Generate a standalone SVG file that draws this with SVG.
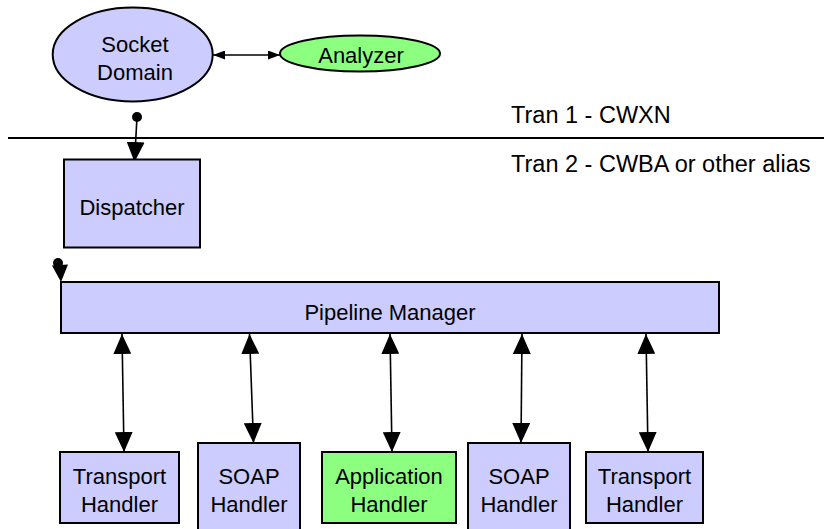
<svg xmlns="http://www.w3.org/2000/svg" width="824" height="529" viewBox="0 0 824 529">
<defs>
<style>
.t{font-family:"Liberation Sans",Arial,sans-serif;font-size:22px;fill:#000;text-anchor:middle}
.lbl{font-family:"Liberation Sans",Arial,sans-serif;font-size:23.5px;fill:#000}
.box{fill:#CCCCFF;stroke:#000;stroke-width:2}
.grn{fill:#8CFF80;stroke:#000;stroke-width:2}
.c{stroke:#000;stroke-width:1.6;fill:none}
</style>
<marker id="big" markerUnits="userSpaceOnUse" markerWidth="20" markerHeight="18" refX="20" refY="9" orient="auto-start-reverse" viewBox="0 0 20 18">
<path d="M0,0 L20,9 L0,18 z" fill="#000"/>
</marker>
<marker id="small" markerUnits="userSpaceOnUse" markerWidth="12" markerHeight="9" refX="12" refY="4.5" orient="auto-start-reverse" viewBox="0 0 12 9">
<path d="M0,0 L12,4.5 L0,9 z" fill="#000"/>
</marker>
</defs>
<rect width="824" height="529" fill="#fff"/>

<g id="divider">
<line x1="8" y1="138" x2="824" y2="138" stroke="#000" stroke-width="2"/>
<text class="lbl" x="511" y="123">Tran 1 - CWXN</text>
<text class="lbl" x="511" y="172">Tran 2 - CWBA or other alias</text>
</g>

<g id="connectors">
<line class="c" x1="213" y1="55" x2="280" y2="55" marker-start="url(#small)" marker-end="url(#small)"/>
<circle cx="137" cy="117" r="5" fill="#000"/>
<line class="c" x1="137" y1="117" x2="134.5" y2="162" marker-end="url(#big)"/>
<circle cx="58" cy="263" r="5" fill="#000"/>
<path d="M52,265.5 L68,264.5 L61,282 z" fill="#000"/>
<line class="c" x1="122" y1="334" x2="124" y2="452" marker-start="url(#big)" marker-end="url(#big)"/>
<line class="c" x1="249.5" y1="334" x2="253.5" y2="443" marker-start="url(#big)" marker-end="url(#big)"/>
<line class="c" x1="390" y1="334" x2="392" y2="452" marker-start="url(#big)" marker-end="url(#big)"/>
<line class="c" x1="522" y1="334" x2="521" y2="443" marker-start="url(#big)" marker-end="url(#big)"/>
<line class="c" x1="646" y1="334" x2="648" y2="452" marker-start="url(#big)" marker-end="url(#big)"/>
</g>

<g id="socket-domain">
<ellipse class="box" cx="132.7" cy="54.5" rx="80" ry="47"/>
<text class="t" x="135" y="52">Socket</text>
<text class="t" x="135" y="80">Domain</text>
</g>

<g id="analyzer">
<ellipse class="grn" cx="360" cy="53.5" rx="80" ry="18"/>
<text class="t" x="361" y="63">Analyzer</text>
</g>

<g id="dispatcher">
<rect class="box" x="64" y="159.5" width="136" height="88"/>
<text class="t" x="132" y="215">Dispatcher</text>
</g>

<g id="pipeline-manager">
<rect class="box" x="61" y="282" width="658" height="51"/>
<text class="t" x="390" y="320">Pipeline Manager</text>
</g>

<g id="transport-handler-1">
<rect class="box" x="60" y="452" width="119" height="71"/>
<text class="t" x="119.5" y="484">Transport</text>
<text class="t" x="119.5" y="512">Handler</text>
</g>

<g id="soap-handler-1">
<rect class="box" x="198" y="443" width="102" height="90"/>
<text class="t" x="249" y="484">SOAP</text>
<text class="t" x="249" y="512">Handler</text>
</g>

<g id="application-handler">
<rect class="grn" x="322" y="452" width="134" height="71"/>
<text class="t" x="389" y="484">Application</text>
<text class="t" x="389" y="512">Handler</text>
</g>

<g id="soap-handler-2">
<rect class="box" x="468" y="443" width="102" height="90"/>
<text class="t" x="519" y="484">SOAP</text>
<text class="t" x="519" y="512">Handler</text>
</g>

<g id="transport-handler-2">
<rect class="box" x="586" y="452" width="117" height="71"/>
<text class="t" x="644.5" y="484">Transport</text>
<text class="t" x="644.5" y="512">Handler</text>
</g>
</svg>
